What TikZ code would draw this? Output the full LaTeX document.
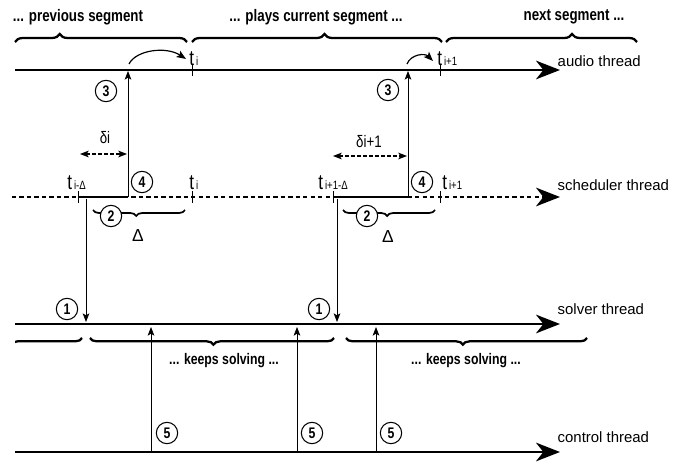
\documentclass[tikz,border=0pt]{standalone}
\usepackage{fontspec}
\setmainfont{Liberation Sans}
\newfontfamily\condf{Liberation Sans}[FakeStretch=0.8]
\newfontfamily\labf{Liberation Sans}
\usetikzlibrary{arrows.meta,decorations.pathreplacing}
\tikzset{
  thread/.style={line width=1.6pt,-{Stealth[length=18pt,width=14pt,inset=5.5pt]}},
  sched/.style={thread,dash pattern=on 3.2pt off 2.4pt},
  vline/.style={line width=0.6pt,-{Stealth[length=6.5pt,width=5pt,inset=1.5pt]}},
  curv/.style={line width=0.9pt,-{Stealth[length=7pt,width=5.5pt,inset=1.5pt]}},
  delta/.style={line width=0.8pt,dash pattern=on 2.5pt off 2pt,{Stealth[length=6.5pt,width=5pt,inset=1.5pt]}-{Stealth[length=6.5pt,width=5pt,inset=1.5pt]}},
  tick/.style={line width=0.6pt},
  num/.style={circle,draw,line width=0.8pt,inner sep=0pt,minimum size=16pt,font=\condf\bfseries\fontsize{11.5}{11.5}\selectfont},
  hdr/.style={font=\condf\bfseries\fontsize{12.5}{14}\selectfont},
  lbl/.style={font=\labf\fontsize{11.2}{13}\selectfont,anchor=west},
  tl/.style={font=\condf\fontsize{16}{16}\selectfont,anchor=base west,inner sep=0pt},
  brc/.style={decorate,line width=1.7pt},
}
\newcommand{\tsub}[1]{t\hspace{1.5pt}{\fontsize{9}{9}\selectfont #1}}
\begin{document}
\begin{tikzpicture}[x=0.75pt,y=-0.75pt]
\path[use as bounding box] (0,0) rectangle (678,463);

% headers
\node[hdr] (h1) at (78,17) {... previous segment};
\node[hdr] (h2) at (316,17) {... plays current segment ...};
\node[hdr] (h3) at (574,17) {next segment ...};

% top braces
\draw[brc,decoration={brace,amplitude=6pt,aspect=0.26}] (15,42) -- (187,42);
\draw[brc,decoration={brace,amplitude=6pt,aspect=0.53}] (192,42) -- (442,42);
\draw[brc,decoration={brace,amplitude=6pt,aspect=0.66}] (446,42) -- (637,42);

% thread lines
\coordinate (a0) at (15,70);   \coordinate (a1) at (560,70);
\coordinate (s0) at (12,197);  \coordinate (s1) at (560,197);
\coordinate (v0) at (15,324);  \coordinate (v1) at (560,324);
\coordinate (c0) at (15,452);  \coordinate (c1) at (560,452);
\draw[thread] (a0) -- (a1);
\draw[sched] (s0) -- (s1);
\draw[thread] (v0) -- (v1);
\draw[thread] (c0) -- (c1);
\node[lbl] (la) at (553,61) {audio thread};
\node[lbl] (ls) at (553,185) {scheduler thread};
\node[lbl] (lv) at (553,309) {solver thread};
\node[lbl] (lc) at (553,437) {control thread};

% solid parts of scheduler line
\coordinate (sA) at (78,197);  \coordinate (sB) at (128,197);
\coordinate (sC) at (333,197); \coordinate (sD) at (408,197);
\draw[line width=1.6pt] (sA) -- (sB);
\draw[line width=1.6pt] (sC) -- (sD);

% ticks
\foreach \x/\n in {192/ta1,440/ta2}{
  \coordinate (\n u) at (\x,64); \coordinate (\n d) at (\x,76);
  \draw[tick] (\n u) -- (\n d);}
\foreach \x/\n in {78/ts1,192/ts2,333/ts3,440/ts4}{
  \coordinate (\n u) at (\x,191); \coordinate (\n d) at (\x,203);
  \draw[tick] (\n u) -- (\n d);}

% t labels
\node[tl] (tA1) at (189,66) {\tsub{i}};
\node[tl] (tA2) at (437,66) {\tsub{i+1}};
\node[tl] (tS1) at (67,190) {\tsub{i-Δ}};
\node[tl] (tS2) at (189,190) {\tsub{i}};
\node[tl] (tS3) at (318,190) {\tsub{i+1-Δ}};
\node[tl] (tS4) at (442,190) {\tsub{i+1}};

% curved arrows
\coordinate (k1s) at (129,64); \coordinate (k1e) at (186,59);
\coordinate (k2s) at (407,64); \coordinate (k2e) at (433,61);
\draw[curv] (k1s) .. controls (136,50) and (166,46) .. (k1e);
\draw[curv] (k2s) .. controls (411,54) and (425,53) .. (k2e);

% step 3
\coordinate (t3a) at (128,71); \coordinate (t3b) at (408,71);
\draw[vline] (sB) -- (t3a);
\draw[vline] (sD) -- (t3b);
\node[num] (n3a) at (106,91) {3};
\node[num] (n3b) at (388,90) {3};

% delta arrows
\coordinate (d1a) at (80,154);  \coordinate (d1b) at (127,154);
\coordinate (d2a) at (333,156); \coordinate (d2b) at (407,156);
\draw[delta] (d1a) -- (d1b);
\draw[delta] (d2a) -- (d2b);
\node[font=\condf\fontsize{12.5}{12.5}\selectfont] (dl1) at (105,138) {δi};
\node[font=\condf\fontsize{12.5}{12.5}\selectfont] (dl2) at (369,142) {δi+1};

% step 4
\node[num] (n4a) at (142,182) {4};
\node[num] (n4b) at (422,182) {4};

% delta braces and step 2
\draw[line width=1.3pt,decorate,decoration={brace,mirror,amplitude=4.5pt,aspect=0.47}] (93,210) -- (185,210);
\draw[line width=1.3pt,decorate,decoration={brace,mirror,amplitude=4.5pt,aspect=0.48}] (343,210) -- (435,210);
\node[num,fill=white] (n2a) at (111,216) {2};
\node[num,fill=white] (n2b) at (367,216) {2};
\node[font=\labf\fontsize{13}{13}\selectfont] (D1) at (138,236) {Δ};
\node[font=\labf\fontsize{13}{13}\selectfont] (D2) at (388,237) {Δ};

% step 1
\coordinate (u1a) at (86,199);  \coordinate (w1a) at (86,322);
\coordinate (u1b) at (337,199); \coordinate (w1b) at (337,322);
\draw[vline] (u1a) -- (w1a);
\draw[vline] (u1b) -- (w1b);
\node[num] (n1a) at (67,309) {1};
\node[num] (n1b) at (319,309) {1};

% solver braces
\begin{scope}
\clip (15,320) rectangle (90,360);
\draw[brc,decoration={brace,mirror,amplitude=5pt,aspect=0.5}] (-60,338) -- (82,338);
\end{scope}
\draw[brc,decoration={brace,mirror,amplitude=5pt,aspect=0.506}] (90,338) -- (334,338);
\draw[brc,decoration={brace,mirror,amplitude=5pt,aspect=0.485}] (346,338) -- (587,338);
\node[hdr,font=\condf\bfseries\fontsize{11.5}{13}\selectfont] (ks1) at (224,361) {... keeps solving ...};
\node[hdr,font=\condf\bfseries\fontsize{11.5}{13}\selectfont] (ks2) at (466,361) {... keeps solving ...};

% step 5
\foreach \x/\n in {151/p,297/q,376/r}{
  \coordinate (\n 0) at (\x,451); \coordinate (\n 1) at (\x,327);
  \draw[vline] (\n 0) -- (\n 1);}
\node[num] (n5a) at (167,433) {5};
\node[num] (n5b) at (312,433) {5};
\node[num] (n5c) at (391,433) {5};
\end{tikzpicture}
\end{document}
